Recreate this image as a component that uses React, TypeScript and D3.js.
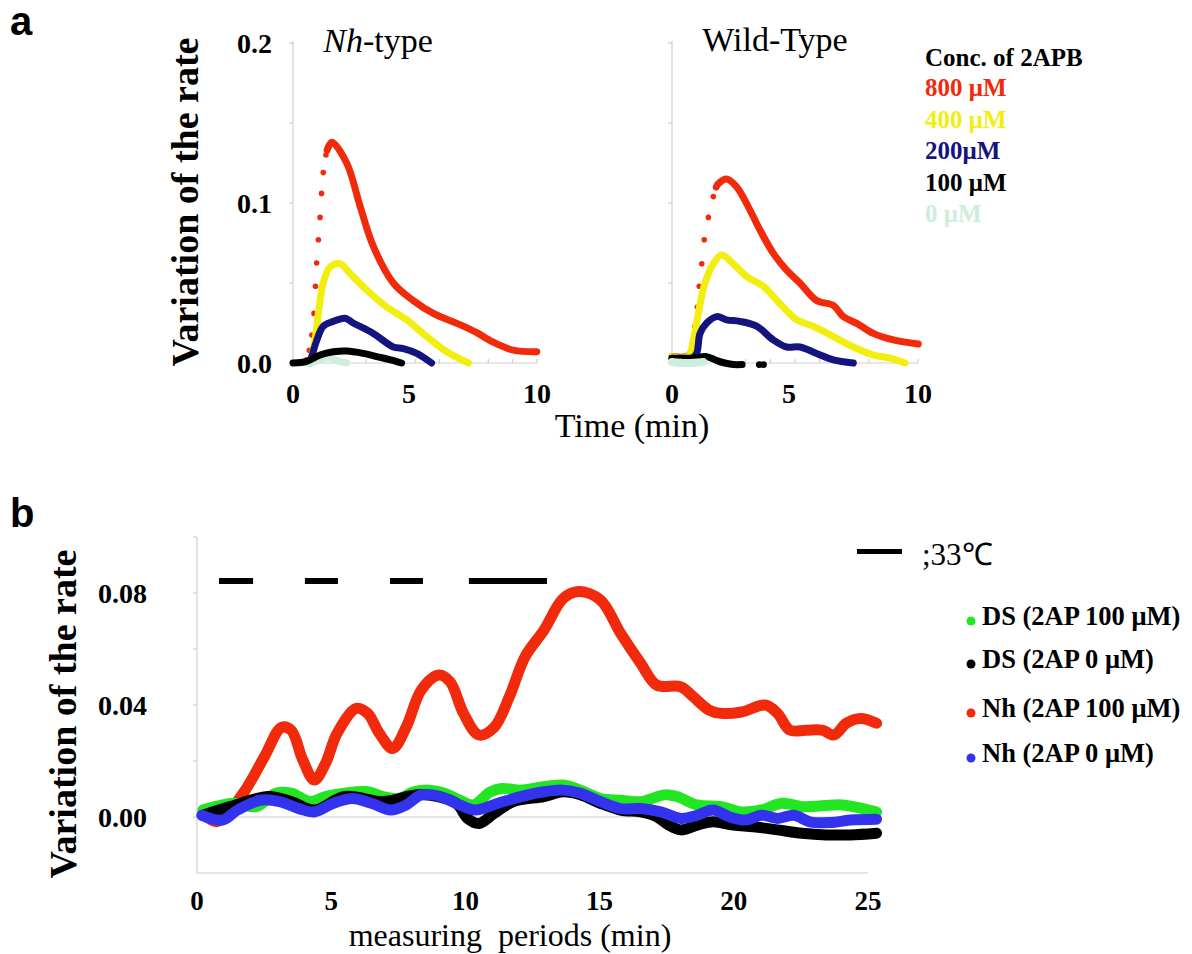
import React, { useRef, useEffect } from "react";
import * as d3 from "d3";

type Pt = [number, number];

// ---- panel a : Nh-type (time min, variation of the rate) ----
const nhRedRise: Pt[] = [
  [0.56, 0.002], [0.67, 0.008], [0.77, 0.0175], [0.86, 0.031], [0.92, 0.048],
  [0.97, 0.0625], [1.04, 0.077], [1.11, 0.091], [1.17, 0.106], [1.24, 0.119], [1.35, 0.13],
];
const nhRed: Pt[] = [
  [1.4, 0.133], [1.59, 0.138], [2.2, 0.125], [2.75, 0.098], [3.29, 0.073], [4.11, 0.05],
  [4.93, 0.039], [5.75, 0.031], [6.84, 0.024], [7.53, 0.019], [8.21, 0.013], [9.03, 0.008], [9.99, 0.007],
];
const nhYellow: Pt[] = [
  [0.7, 0.0], [0.9, 0.014], [1.04, 0.031], [1.24, 0.05], [1.52, 0.06], [1.93, 0.062],
  [2.34, 0.056], [3.02, 0.0456], [3.84, 0.035], [4.66, 0.027], [5.48, 0.0165], [6.3, 0.007], [7.19, 0.0],
];
const nhNavy: Pt[] = [
  [0.7, 0.0], [0.97, 0.014], [1.24, 0.023], [1.65, 0.026], [2.13, 0.028], [2.47, 0.025],
  [3.29, 0.0185], [4.11, 0.01], [4.52, 0.009], [5.07, 0.006], [5.68, 0.0],
];
const nhBlack: Pt[] = [
  [0, 0.0], [0.56, 0.001], [1.11, 0.005], [1.65, 0.007], [2.2, 0.0075], [2.88, 0.006],
  [3.43, 0.004], [4.0, 0.002], [4.45, 0.0],
];
const nhPale: Pt[] = [[0.64, -0.0005], [1.1, 0.002], [1.47, 0.0035], [1.88, 0.001], [2.2, 0.0]];

// ---- panel a : Wild-Type ----
const wtRedRise: Pt[] = [
  [0.8, 0.01], [0.93, 0.023], [1.03, 0.035], [1.11, 0.048], [1.21, 0.062],
  [1.31, 0.077], [1.48, 0.091], [1.68, 0.104],
];
const wtRed: Pt[] = [
  [0, 0.004], [0.6, 0.004], [0.75, 0.006],
];
const wtRedTail: Pt[] = [
  [1.8, 0.11], [1.88, 0.112], [2.22, 0.115], [2.63, 0.11], [3.17, 0.0956], [3.58, 0.083],
  [4.12, 0.0685], [4.66, 0.058], [5.2, 0.05], [5.88, 0.039], [6.56, 0.036], [6.96, 0.029],
  [7.51, 0.0248], [8.18, 0.0185], [9.0, 0.0144], [10.01, 0.0119],
];
const wtYellow: Pt[] = [
  [0, 0.004], [0.65, 0.004], [0.87, 0.0146], [1.07, 0.031], [1.34, 0.05], [1.68, 0.062],
  [2.02, 0.0675], [2.49, 0.062], [3.04, 0.054], [3.71, 0.048], [4.39, 0.037], [5.07, 0.027],
  [5.74, 0.023], [6.56, 0.0165], [7.37, 0.01], [8.18, 0.005], [8.86, 0.003], [9.47, 0.0],
];
const wtNavy: Pt[] = [
  [0, 0.003], [0.8, 0.003], [1.0, 0.006], [1.14, 0.0185], [1.41, 0.025], [1.82, 0.029],
  [2.22, 0.027], [2.76, 0.026], [3.44, 0.023], [4.12, 0.0144], [4.66, 0.01], [5.2, 0.01],
  [5.88, 0.006], [6.56, 0.002], [7.37, 0.0],
];
const wtBlack: Pt[] = [
  [0, 0.003], [0.8, 0.003], [1.41, 0.004], [1.82, 0.0015], [2.15, 0.0], [2.5, -0.001], [2.85, -0.001],
];
const wtBlackDots: Pt[] = [[3.55, -0.001], [3.72, -0.001]];
const wtPale: Pt[] = [[0, 0.0006], [0.6, 0.0], [1.27, 0.0006]];

// ---- panel b : measuring periods (min) ----
const dsAp100: Pt[] = [
  [0.22, 0.0025], [1.37, 0.0049], [2.22, 0.0037], [2.94, 0.0085], [3.51, 0.0085], [4.22, 0.0055],
  [4.79, 0.0073], [5.51, 0.0085], [6.36, 0.009], [6.93, 0.0073], [7.5, 0.0066], [8.08, 0.009],
  [8.65, 0.0096], [9.22, 0.0085], [9.79, 0.006], [10.29, 0.0043], [10.93, 0.009], [11.36, 0.0102],
  [12.07, 0.0096], [12.93, 0.0108], [13.64, 0.0114], [14.28, 0.0096], [15.03, 0.0066], [15.78, 0.006],
  [16.53, 0.0055], [17.43, 0.0079], [17.88, 0.0073], [18.63, 0.0043], [19.53, 0.0037], [20.29, 0.0018],
  [21.04, 0.0025], [21.79, 0.0049], [22.54, 0.0037], [23.29, 0.004], [24.04, 0.0043], [24.79, 0.003],
  [25.32, 0.0018],
];
const dsAp0: Pt[] = [
  [0.22, 0.0006], [1.23, 0.0037], [2.65, 0.0073], [3.51, 0.0055], [4.37, 0.0025], [5.51, 0.0073],
  [6.93, 0.0055], [8.36, 0.008], [9.65, 0.0049], [10.08, -0.0005], [10.5, -0.0023], [11.07, 0.0013],
  [11.79, 0.0055], [12.93, 0.0073], [13.64, 0.009], [14.28, 0.008], [15.03, 0.0049], [15.78, 0.0025],
  [16.53, 0.0018], [17.13, 0.0001], [17.58, -0.0029], [18.03, -0.0046], [18.63, -0.0029],
  [19.23, -0.0017], [19.98, -0.0029], [20.73, -0.0035], [21.63, -0.0046], [22.54, -0.0058],
  [23.44, -0.0064], [24.34, -0.0064], [25.32, -0.0058],
];
const nhAp100: Pt[] = [
  [0.22, 0.0013], [0.73, -0.0017], [1.23, 0.0025], [1.8, 0.0096], [2.51, 0.0215], [3.15, 0.032],
  [3.51, 0.031], [3.94, 0.0204], [4.37, 0.0132], [4.79, 0.0192], [5.22, 0.0299], [5.94, 0.0388],
  [6.36, 0.037], [6.79, 0.0299], [7.29, 0.0245], [7.79, 0.032], [8.36, 0.0454], [9.01, 0.0507],
  [9.43, 0.0483], [9.93, 0.037], [10.5, 0.0293], [11.07, 0.032], [11.64, 0.043], [12.22, 0.0572],
  [12.93, 0.0668], [13.64, 0.078], [14.21, 0.0805], [15.03, 0.0775], [15.78, 0.0656], [16.53, 0.0549],
  [17.13, 0.0471], [18.03, 0.0465], [18.48, 0.043], [19.08, 0.0382], [19.53, 0.037], [20.29, 0.0375],
  [21.18, 0.04], [21.63, 0.037], [22.09, 0.031], [22.69, 0.031], [23.29, 0.031], [23.74, 0.0293],
  [24.19, 0.0335], [24.72, 0.0352], [25.32, 0.0335],
];
const nhAp0: Pt[] = [
  [0.18, 0.0006], [0.94, -0.0011], [1.51, 0.0025], [2.37, 0.006], [3.08, 0.0055], [3.8, 0.003],
  [4.37, 0.0018], [5.08, 0.0049], [5.79, 0.0066], [6.5, 0.0049], [7.22, 0.0025], [7.79, 0.0043],
  [8.36, 0.0079], [9.07, 0.0073], [9.79, 0.0043], [10.36, 0.0025], [11.21, 0.0049], [12.07, 0.0073],
  [12.93, 0.009], [13.64, 0.0096], [14.28, 0.0085], [15.03, 0.0055], [15.78, 0.003], [16.53, 0.003],
  [17.28, 0.0018], [18.03, -0.0005], [18.63, 0.0006], [19.23, 0.0025], [19.83, 0.0001],
  [20.44, -0.0011], [21.04, 0.0006], [21.63, -0.0005], [22.24, 0.0006], [22.84, -0.0017],
  [23.59, -0.002], [24.34, -0.0011], [25.32, -0.0008],
];
// heating periods at 33 C
const heatPeriods: Pt[] = [[0.82, 2.09], [4.02, 5.25], [7.19, 8.42], [10.13, 13.04]];

const legendA = [
  { label: "800 μM", color: "#f22a0c" },
  { label: "400 μM", color: "#f2ee10" },
  { label: "200μM", color: "#14147e" },
  { label: "100 μM", color: "#000000" },
  { label: "0 μM", color: "#cdeedb" },
];
const legendB = [
  { label: "DS (2AP 100 μM)", color: "#22e622" },
  { label: "DS (2AP 0 μM)", color: "#000000" },
  { label: "Nh (2AP 100 μM)", color: "#f22a0c" },
  { label: "Nh (2AP 0 μM)", color: "#3333ee" },
];

const serif = "'Liberation Serif', 'Times New Roman', serif";

export default function App() {
  const ref = useRef<SVGSVGElement>(null);

  useEffect(() => {
    const svg = d3.select(ref.current);
    svg.selectAll("*").remove();
    const gray = "#cfcfcf";

    // ---------- panel a ----------
    const yA = d3.scaleLinear().domain([0, 0.2]).range([363, 43]);
    const xA1 = d3.scaleLinear().domain([0, 10]).range([293, 537]);
    const xA2 = d3.scaleLinear().domain([0, 10]).range([672, 918]);

    const drawFrameA = (x: d3.ScaleLinear<number, number>, labels: boolean) => {
      const g = svg.append("g");
      g.append("line").attr("x1", x(0)).attr("x2", x(0)).attr("y1", yA(0.2) - 2).attr("y2", yA(0))
        .attr("stroke", gray).attr("stroke-width", 1.2);
      g.append("line").attr("x1", x(0)).attr("x2", x(10)).attr("y1", yA(0)).attr("y2", yA(0))
        .attr("stroke", gray).attr("stroke-width", 1.2);
      d3.range(0, 0.2001, 0.05).forEach((v) => {
        g.append("line").attr("x1", x(0) - 4).attr("x2", x(0)).attr("y1", yA(v)).attr("y2", yA(v))
          .attr("stroke", gray).attr("stroke-width", 1.2);
      });
      d3.range(1, 11).forEach((t) => {
        g.append("line").attr("x1", x(t)).attr("x2", x(t)).attr("y1", yA(0) - 4).attr("y2", yA(0))
          .attr("stroke", gray).attr("stroke-width", 1.2);
      });
      if (labels) {
        [0, 0.1, 0.2].forEach((v) => {
          g.append("text").attr("x", x(0) - 21).attr("y", yA(v)).attr("dy", "0.35em")
            .attr("text-anchor", "end").attr("font-family", serif).attr("font-weight", "bold")
            .attr("font-size", 28).text(v.toFixed(1));
        });
      }
      [0, 5, 10].forEach((t) => {
        g.append("text").attr("x", x(t) - (t === 5 ? 6 : 0)).attr("y", 403).attr("text-anchor", "middle")
          .attr("font-family", serif).attr("font-weight", "bold").attr("font-size", 28).text(t);
      });
    };
    drawFrameA(xA1, true);
    drawFrameA(xA2, false);

    const drawLine = (
      data: Pt[], x: d3.ScaleLinear<number, number>, y: d3.ScaleLinear<number, number>,
      color: string, w: number
    ) => {
      const line = d3.line<Pt>().x((d) => x(d[0])).y((d) => y(d[1])).curve(d3.curveCatmullRom.alpha(0.5));
      svg.append("path").datum(data).attr("d", line).attr("fill", "none").attr("stroke", color)
        .attr("stroke-width", w).attr("stroke-linecap", "round").attr("stroke-linejoin", "round");
    };
    const drawDots = (
      data: Pt[], x: d3.ScaleLinear<number, number>, y: d3.ScaleLinear<number, number>,
      color: string, r: number
    ) => {
      svg.append("g").selectAll("circle").data(data).enter().append("circle")
        .attr("cx", (d) => x(d[0])).attr("cy", (d) => y(d[1])).attr("r", r).attr("fill", color);
    };

    const [cRed, cYel, cNavy, cBlack, cPale] = legendA.map((d) => d.color);
    // Nh-type
    drawDots(nhRedRise, xA1, yA, cRed, 2.8);
    drawLine(nhRed, xA1, yA, cRed, 7);
    drawLine(nhYellow, xA1, yA, cYel, 7);
    drawLine(nhNavy, xA1, yA, cNavy, 7);
    drawLine(nhPale, xA1, yA, cPale, 7);
    drawLine(nhBlack, xA1, yA, cBlack, 7);
    // Wild-type
    drawLine(wtRed, xA2, yA, cRed, 7);
    drawDots(wtRedRise, xA2, yA, cRed, 2.8);
    drawLine(wtRedTail, xA2, yA, cRed, 7);
    drawLine(wtYellow, xA2, yA, cYel, 7);
    drawLine(wtNavy, xA2, yA, cNavy, 7);
    drawLine(wtBlack, xA2, yA, cBlack, 7);
    drawDots(wtBlackDots, xA2, yA, cBlack, 3.4);
    drawLine(wtPale, xA2, yA, cPale, 8);

    // titles and labels panel a
    const tA = svg.append("text").attr("x", 378).attr("y", 52).attr("text-anchor", "middle")
      .attr("font-family", serif).attr("font-size", 34);
    tA.append("tspan").attr("font-style", "italic").text("Nh");
    tA.append("tspan").text("-type");
    svg.append("text").attr("x", 775).attr("y", 51).attr("text-anchor", "middle")
      .attr("font-family", serif).attr("font-size", 34).text("Wild-Type");
    svg.append("text").attr("transform", "translate(198,202) rotate(-90)").attr("text-anchor", "middle")
      .attr("font-family", serif).attr("font-weight", "bold").attr("font-size", 38).text("Variation of the rate");
    svg.append("text").attr("x", 632).attr("y", 437).attr("text-anchor", "middle")
      .attr("font-family", serif).attr("font-size", 34).text("Time (min)");

    svg.append("text").attr("x", 925).attr("y", 66).attr("font-family", serif).attr("font-weight", "bold")
      .attr("font-size", 25).text("Conc. of 2APB");
    legendA.forEach((d, i) => {
      svg.append("text").attr("x", 925).attr("y", 96 + i * 31.5).attr("font-family", serif)
        .attr("font-weight", "bold").attr("font-size", 25).attr("fill", d.color).text(d.label);
    });

    // ---------- panel b ----------
    const xB = d3.scaleLinear().domain([0, 25]).range([197, 868]);
    const yB = d3.scaleLinear().domain([-0.02, 0.1]).range([873, 537]);
    const gb = svg.append("g");
    gb.append("line").attr("x1", xB(0)).attr("x2", xB(0)).attr("y1", yB(0.1)).attr("y2", yB(-0.02))
      .attr("stroke", gray).attr("stroke-width", 1.2);
    gb.append("line").attr("x1", xB(0)).attr("x2", xB(25)).attr("y1", yB(-0.02)).attr("y2", yB(-0.02))
      .attr("stroke", gray).attr("stroke-width", 1.2);
    gb.append("line").attr("x1", xB(0)).attr("x2", xB(25)).attr("y1", yB(0)).attr("y2", yB(0))
      .attr("stroke", gray).attr("stroke-width", 1.2);
    d3.range(0, 0.1001, 0.02).forEach((v) => {
      gb.append("line").attr("x1", xB(0) - 4).attr("x2", xB(0)).attr("y1", yB(v)).attr("y2", yB(v))
        .attr("stroke", gray).attr("stroke-width", 1.2);
    });
    [0, 0.04, 0.08].forEach((v) => {
      gb.append("text").attr("x", 147).attr("y", yB(v)).attr("dy", "0.35em").attr("text-anchor", "end")
        .attr("font-family", serif).attr("font-weight", "bold").attr("font-size", 28).text(v.toFixed(2));
    });
    d3.range(0, 26, 5).forEach((t) => {
      gb.append("text").attr("x", xB(t)).attr("y", 910).attr("text-anchor", "middle")
        .attr("font-family", serif).attr("font-weight", "bold").attr("font-size", 27).text(t);
    });

    // heating bars
    gb.selectAll("rect.heat").data(heatPeriods).enter().append("rect")
      .attr("x", (d) => xB(d[0])).attr("width", (d) => xB(d[1]) - xB(d[0]))
      .attr("y", 578).attr("height", 6).attr("fill", "#000");

    const [gGreen, gBlack, gRed, gBlue] = legendB.map((d) => d.color);
    drawLine(nhAp100, xB, yB, gRed, 11);
    drawLine(dsAp100, xB, yB, gGreen, 11);
    drawLine(dsAp0, xB, yB, gBlack, 11);
    drawLine(nhAp0, xB, yB, gBlue, 11);

    svg.append("text").attr("transform", "translate(76,714) rotate(-90)").attr("text-anchor", "middle")
      .attr("font-family", serif).attr("font-weight", "bold").attr("font-size", 38).text("Variation of the rate");
    svg.append("text").attr("x", 510).attr("y", 946).attr("text-anchor", "middle")
      .attr("font-family", serif).attr("font-size", 32)
      .style("white-space", "pre").text("measuring  periods (min)");

    // legend b
    svg.append("rect").attr("x", 857).attr("y", 549).attr("width", 45).attr("height", 5).attr("fill", "#000");
    svg.append("text").attr("x", 922).attr("y", 565).attr("font-family", serif).attr("font-size", 31)
      .text(";33℃");
    legendB.forEach((d, i) => {
      const yy = [625, 668, 717, 762][i];
      svg.append("circle").attr("cx", 971).attr("cy", yy - 4).attr("r", 4.5).attr("fill", d.color);
      svg.append("text").attr("x", 982).attr("y", yy).attr("font-family", serif).attr("font-weight", "bold")
        .attr("font-size", 26.5).text(d.label);
    });

    // panel letters
    svg.append("text").attr("x", 10).attr("y", 35).attr("font-family", "'Liberation Sans', Arial, sans-serif")
      .attr("font-weight", "bold").attr("font-size", 40).text("a");
    svg.append("text").attr("x", 10).attr("y", 527).attr("font-family", "'Liberation Sans', Arial, sans-serif")
      .attr("font-weight", "bold").attr("font-size", 40).text("b");
  }, []);

  return (
    <svg
      ref={ref}
      width={1192}
      height={954}
      style={{ position: "absolute", left: 0, top: 0, background: "#fff" }}
    />
  );
}
